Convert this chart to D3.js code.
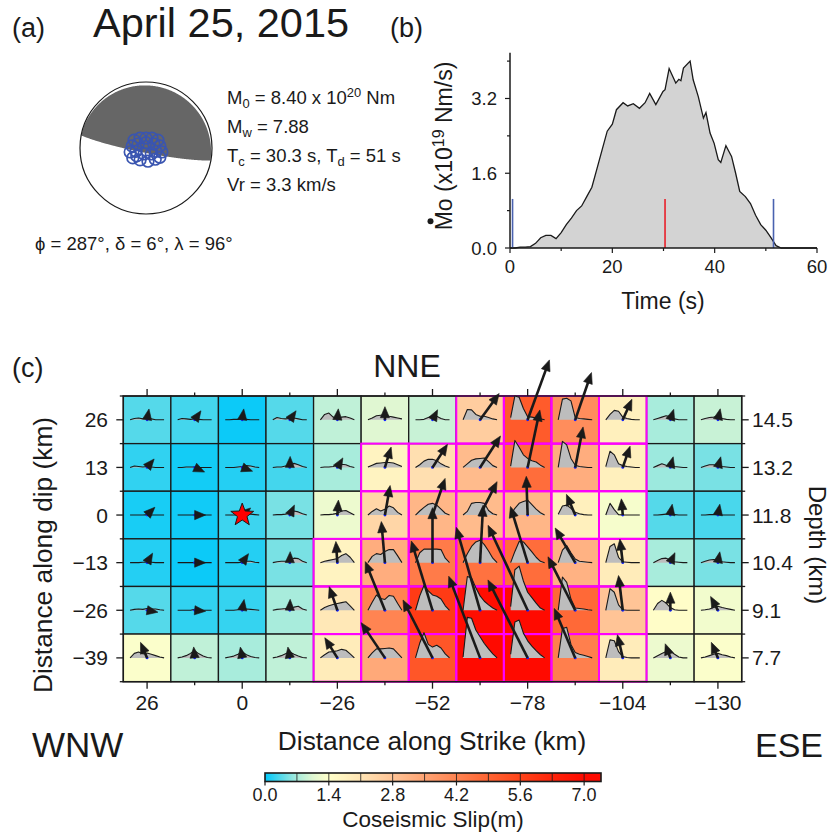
<!DOCTYPE html>
<html><head><meta charset="utf-8">
<script src="https://cdn.jsdelivr.net/npm/d3@7"></script>
<style>
body{margin:0;background:#fff}
svg text{font-family:"Liberation Sans",Arial,Helvetica,sans-serif;fill:#1a1a1a}
</style>
</head><body>
<svg id="fig" width="833" height="835" xmlns="http://www.w3.org/2000/svg"></svg>
<script>
// ---------------- DATA ----------------
const eventTitle = "April 25, 2015";
const strike = 287, dip = 6, rake = 96;
// blue cluster of circles (offsets in beachball-radius units)
const clusterX = [-0.18,-0.09,0,0.09,0.18,-0.21,0.21,-0.12,0.12,0,-0.15,0.15,0.24,-0.24,-0.2,-0.09,0.03,0.14,0.21,-0.03,0.08,-0.14];
const clusterY = [-0.12,-0.15,-0.15,-0.15,-0.12,-0.03,-0.03,-0.06,-0.06,-0.08,0.05,0.05,0.06,0.06,0.15,0.18,0.2,0.17,0.14,0.09,0.09,0.12];

// moment rate function (panel b)
const stfTime = [0,1,2,3,4,5,6,7,8,9,10,11,12,13,14,15,16,17,18,19,20,20.8,22.1,23,24.1,25.3,26.4,27.3,28.5,29.9,30.3,31.1,32.4,33,33.4,33.9,35.2,35.8,36.8,37.8,38.3,39.1,39.9,40.7,41.2,42.2,43.3,44.1,44.9,46,47,48,49,50,51,52,53,54,56,58,60];
const stfRate = [0,0,0.02,0.02,0.03,0.1,0.22,0.27,0.27,0.2,0.33,0.5,0.64,0.8,0.9,1.1,1.3,1.7,2.1,2.5,2.65,2.96,3.11,3.04,3.09,2.99,3.11,3.31,3.07,3.35,3.39,3.84,3.53,3.61,3.58,3.85,4.0,3.6,3.24,2.78,2.9,2.46,2.24,1.89,1.83,2.19,1.96,1.6,1.21,1.1,0.95,0.7,0.5,0.38,0.22,0.05,0,0,0,0,0];
const markTimes = [0.5, 30.3, 51.5];
const markKinds = ["start","centroid","end"];
const markHeight = 1.05;
const stfYTicks = [0, 1.6, 3.2];
const stfXTicks = [0, 20, 40, 60];

// slip model (panel c)
const strikeKm = [26,13,0,-13,-26,-39,-52,-65,-78,-91,-104,-117,-130];
const dipKm = [26,13,0,-13,-26,-39];
const depthLabels = ["14.5","13.2","11.8","10.4","9.1","7.7"];
const strikeTickLabels = [26,0,-26,-52,-78,-104,-130];
const slip = [
 [0.35,0.28,0.05,0.35,0.85,1.05,0.9,2.6,5.1,4.0,1.8,0.7,0.9],
 [0.2,0.08,0.15,0.28,0.7,1.7,2.2,3.0,4.7,3.3,1.8,0.65,0.5],
 [0.1,0.07,0.25,0.5,1.2,2.4,3.1,3.0,3.1,1.8,1.3,0.35,0.3],
 [0.15,0.05,0.15,0.5,1.7,3.3,4.4,4.6,4.7,3.2,1.9,0.7,0.5],
 [0.35,0.2,0.22,0.7,2.0,4.2,5.8,6.9,7.5,4.8,2.8,1.45,1.25],
 [1.35,0.85,0.7,0.85,1.9,3.4,5.2,7.0,7.0,4.3,1.9,1.2,1.35]
];
// slip direction (deg, counter-clockwise from +x of the plot)
const slipAngle = [
 [80,55,82,55,85,90,63,54,70,71,66,72,78],
 [50,-25,-20,88,60,73,57,57,78,79,71,75,75],
 [45,0,40,65,86,80,71,63,92,113,95,80,80],
 [60,0,55,88,94,95,90,87,107,120,97,65,80],
 [-10,-5,80,88,109,112,107,106,115,117,97,90,118],
 [113,95,100,100,122,124,117,111,117,113,103,110,113]
];
// main rupture patch (outlined)
const patch = [
 [0,0,0,0,0,0,0,1,1,1,1,0,0],
 [0,0,0,0,0,1,1,1,1,1,1,0,0],
 [0,0,0,0,0,1,1,1,1,1,1,0,0],
 [0,0,0,0,1,1,1,1,1,1,1,0,0],
 [0,0,0,0,1,1,1,1,1,1,1,0,0],
 [0,0,0,0,1,1,1,1,1,1,1,0,0]
];
// subfault source time functions (9 samples each)
const subSTF = [
 [[0,0.3,0.4,0.2,0.3,0.2,0,0,0],[0,0.3,0.2,0.1,0.2,0.1,0,0,0],[0,0,0.1,0.1,0.2,0.1,0,0,0],[0,0.5,0.3,0.2,0.3,0.4,0.2,0,0],
  [0,1.2,1.5,0.6,0.4,0.6,0.7,0.4,0],[0,0.4,0.9,1.0,1.1,0.8,0.6,0.4,0.2],[0,0,0.1,0.5,0.9,0.8,0.3,0,0],[0,2.3,2.2,1.2,0.8,0.8,0.5,0.2,0],
  [0.5,5.3,5.0,2.5,0.7,0.6,0.4,0.2,0],[0,4.6,4.8,4.2,0.5,0.3,0.2,0.1,0],[0,1.2,2.1,1.9,0.6,0.3,0.1,0,0],[0,0.3,0.6,0.9,0.7,0.2,0,0,0],[0,0.3,0.5,0.6,0.8,0.3,0.1,0,0]],
 [[0,0.3,0.2,0.1,0.2,0.1,0,0,0],[0,0,0.1,0.1,0.1,0,0,0,0],[0,0,0,0.1,0.2,0.4,0.3,0.1,0],[0,0.1,0.1,0.3,0.5,0.9,0.6,0.2,0],
  [0,0.1,0.1,0.2,0.5,0.7,0.6,0.2,0],[0.1,0.5,0.9,1.0,1.1,1.1,1.0,0.6,0.2],[0,0.6,1.4,1.8,1.8,1.5,0.8,0.3,0],[0,0.8,1.6,1.9,2.0,2.1,1.3,0.4,0],
  [0.3,6.0,4.5,2.8,2.0,1.5,1.2,0.5,0],[0,5.8,5.0,2.0,0.5,0.2,0.1,0,0],[0.2,3.6,2.8,0.8,0.4,0.2,0.1,0,0],[0,0.4,0.8,0.5,0.4,0.2,0.1,0,0],[0,0.3,0.6,0.6,0.4,0.2,0.1,0,0]],
 [[0,0,0,0,0.1,0,0,0,0],[0,0,0,0,0,0,0,0,0],[0,0,0,0,0.1,0.3,0.2,0.1,0],[0,0.1,0.1,0.2,0.4,0.9,0.7,0.3,0],
  [0,0.1,0.1,0.2,0.4,0.9,1.0,0.5,0],[0,0.8,1.4,0.9,1.3,2.0,1.6,0.6,0],[0,0.9,1.7,2.4,2.6,2.2,1.3,0.4,0],[0,0.8,2.6,2.8,2.8,2.6,1.0,0.3,0],
  [0,1.5,2.6,3.0,3.3,2.3,1.3,0.5,0],[0.2,2.0,2.2,1.5,0.6,0.3,0.1,0,0],[0,2.6,1.2,0.1,0,0,0,0,0],[0,0,0.1,0.2,0.2,0.1,0,0,0],[0,0,0.1,0.1,0.1,0,0,0,0]],
 [[0,0,0,0.1,0.1,0.1,0,0,0],[0,0,0,0,0,0,0,0,0],[0,0,0,0,0.1,0.3,0.3,0.1,0],[0,0.2,0.3,0.3,0.6,1.0,0.9,0.3,0],
  [0,0.3,0.5,0.7,0.9,1.6,2.0,1.2,0],[0,1.4,2.0,1.8,2.5,2.9,2.9,1.5,0],[0,2.2,3.0,3.0,3.0,3.0,2.9,1.0,0],[0,2.0,3.6,4.6,5.0,4.0,2.6,1.0,0],
  [0,2.5,4.7,4.6,3.5,2.4,1.2,0.3,0],[0,2.8,3.8,2.2,0.8,0.3,0.2,0.1,0],[0,3.6,4.2,1.2,0.2,0.1,0,0,0],[0,0.5,0.9,1.0,0.6,0.2,0.1,0,0],[0,0.3,0.6,0.7,0.6,0.2,0.1,0,0]],
 [[0,0.2,0.3,0.2,0.4,0.3,0.3,0.1,0],[0,0,0,0,0.2,0.1,0,0,0],[0,0,0,0.1,0.2,0.3,0.2,0.1,0],[0,0.2,0.3,0.4,0.6,0.7,0.9,0.3,0],
  [0,0.6,1.0,1.3,1.5,1.7,1.9,1.0,0],[0,1.8,3.4,2.6,2.4,3.3,3.1,1.5,0],[0,3.2,5.5,4.3,3.4,3.1,2.5,1.0,0],[0,7.5,7.2,5.0,3.2,2.0,1.2,0.5,0],
  [0.8,9.0,9.8,6.5,4.0,2.8,1.6,0.5,0],[0,7.4,6.2,2.5,0.5,0.4,0.3,0.1,0],[0,4.8,4.0,1.2,0.1,0,0,0,0],[0,1.5,2.2,1.6,0.6,0.1,0,0,0],[0,0.1,0.3,0.6,0.9,0.6,0.4,0.2,0]],
 [[0,1.0,1.3,0.9,1.1,0.8,0.5,0.2,0],[0,0.2,0.5,1.0,1.6,0.9,0.4,0.1,0],[0,0.2,0.4,0.8,1.3,0.7,0.3,0.1,0],[0,0.2,0.5,0.9,1.3,0.8,0.4,0.1,0],
  [0,0.7,1.3,1.4,1.6,1.9,1.7,0.9,0],[0,1.1,2.0,2.0,2.1,2.2,2.0,1.0,0],[0,3.3,5.6,3.0,2.4,2.8,2.2,0.9,0],[0.2,9.0,8.8,6.2,4.7,3.2,2.0,0.9,0],
  [0.8,8.0,8.4,5.5,3.8,2.6,1.6,0.7,0],[0,6.5,6.8,3.0,1.2,0.8,0.6,0.3,0],[0,4.0,3.8,1.4,0.3,0.1,0,0,0],[0,0.5,1.0,1.4,1.5,0.8,0.2,0,0],[0,0.2,0.5,0.8,1.0,0.7,0.5,0.2,0]]
];
const hypoStrike = 0, hypoDip = 0;
// colour palette (slip in m)
const paletteStops = [0,0.35,0.7,1.05,1.4,2.1,2.8,3.5,4.2,4.9,5.6,6.3,7.0];
const paletteColors = ["#00c8fa","#55d9ea","#a8ecdc","#e0f7d2","#ffffca","#ffe4b4","#ffc496","#ffa474","#ff8452","#ff6432","#ff441a","#ff240a","#ff0a00"];
const colorbarTicks = [0,1.4,2.8,4.2,5.6,7.0];
const colorbarMax = 7.37;

// ---------------- DRAW ----------------
const svg = d3.select("#fig");
const ink = "#1a1a1a";

function txt(g, x, y, s, size, anchor){
  return g.append("text").attr("x",x).attr("y",y).attr("font-size",size).attr("text-anchor",anchor||"start").text(s);
}

// ===== panel (a) =====
txt(svg, 12, 37, "(a)", 27);
txt(svg, 93, 37, eventTitle, 41.5);

const bbC = [146, 148], bbR = 66;
(function beachball(){
  const rad = Math.PI/180;
  const s = strike*rad, d = dip*rad, r = rake*rad;
  const Mxx = -(Math.sin(d)*Math.cos(r)*Math.sin(2*s) + Math.sin(2*d)*Math.sin(r)*Math.sin(s)**2);
  const Myy =  Math.sin(d)*Math.cos(r)*Math.sin(2*s) - Math.sin(2*d)*Math.sin(r)*Math.cos(s)**2;
  const Mzz =  Math.sin(2*d)*Math.sin(r);
  const Mxy =  Math.sin(d)*Math.cos(r)*Math.cos(2*s) + 0.5*Math.sin(2*d)*Math.sin(r)*Math.sin(2*s);
  const Mxz = -(Math.cos(d)*Math.cos(r)*Math.cos(s) + Math.cos(2*d)*Math.sin(r)*Math.sin(s));
  const Myz = -(Math.cos(d)*Math.cos(r)*Math.sin(s) - Math.cos(2*d)*Math.sin(r)*Math.cos(s));
  const N = 300, vals = new Array(N*N);
  for (let j=0;j<N;j++) for (let i=0;i<N;i++){
    const px = (i+0.5)/N*2-1, py = (j+0.5)/N*2-1;
    const rr = Math.hypot(px,py);
    if (rr>1){ vals[j*N+i] = -1; continue; }
    const ti = 2*Math.asin(Math.min(1, rr/Math.SQRT2));
    const az = Math.atan2(px, -py);
    const g1 = Math.sin(ti)*Math.cos(az), g2 = Math.sin(ti)*Math.sin(az), g3 = Math.cos(ti);
    vals[j*N+i] = Mxx*g1*g1 + Myy*g2*g2 + Mzz*g3*g3 + 2*(Mxy*g1*g2 + Mxz*g1*g3 + Myz*g2*g3);
  }
  const cont = d3.contours().size([N,N]).thresholds([0])(vals);
  const tr = d3.geoTransform({point(x,y){ this.stream.point(bbC[0]+(x/N*2-1)*bbR, bbC[1]+(y/N*2-1)*bbR); }});
  svg.append("circle").attr("cx",bbC[0]).attr("cy",bbC[1]).attr("r",bbR).attr("fill","#fff");
  svg.append("path").attr("d", d3.geoPath(tr)(cont[0])).attr("fill","#666666");
  svg.append("circle").attr("cx",bbC[0]).attr("cy",bbC[1]).attr("r",bbR).attr("fill","none").attr("stroke",ink).attr("stroke-width",1.2);
  const cg = svg.append("g");
  clusterX.forEach((cx,k)=>{
    cg.append("circle").attr("cx",bbC[0]+cx*bbR).attr("cy",bbC[1]+clusterY[k]*bbR).attr("r",5.8)
      .attr("fill","none").attr("stroke","#3a55b0").attr("stroke-width",1.7);
  });
})();

// parameter text
(function params(){
  const x0 = 227, fs = 18.5;
  function line(y, parts){
    const t = svg.append("text").attr("x",x0).attr("y",y).attr("font-size",fs);
    parts.forEach(p=>{
      const sp = t.append("tspan").text(p[0]);
      if (p[1]==="sub") sp.attr("font-size",fs*0.7).attr("dy",4);
      else if (p[1]==="sup") sp.attr("font-size",fs*0.7).attr("dy",-7);
      else if (p[1]==="subEnd") sp.attr("dy",-4);
      else if (p[1]==="supEnd") sp.attr("dy",7);
    });
  }
  line(104, [["M"],["0","sub"],[" = 8.40 x 10","subEnd"],["20","sup"],[" Nm","supEnd"]]);
  line(133, [["M"],["w","sub"],[" = 7.88","subEnd"]]);
  line(162, [["T"],["c","sub"],[" = 30.3 s, T","subEnd"],["d","sub"],[" = 51 s","subEnd"]]);
  line(191, [["Vr = 3.3 km/s"]]);
  txt(svg, 35, 250, "\u03d5 = 287\u00b0, \u03b4 = 6\u00b0, \u03bb = 96\u00b0", 18.5);
})();

// ===== panel (b) =====
txt(svg, 390, 37, "(b)", 27);
(function stfPanel(){
  const xb = d3.scaleLinear().domain([0,60]).range([510,817]);
  const yb = d3.scaleLinear().domain([0,4.18]).range([248,52.7]);
  const g = svg.append("g");
  const area = d3.area().x((d,i)=>xb(stfTime[i])).y0(yb(0)).y1((d)=>yb(d));
  const line = d3.line().x((d,i)=>xb(stfTime[i])).y(d=>yb(d));
  g.append("path").attr("d", area(stfRate)).attr("fill","#d3d3d3");
  g.append("path").attr("d", line(stfRate)).attr("fill","none").attr("stroke",ink).attr("stroke-width",1.3);
  markTimes.forEach((t,k)=>{
    g.append("line").attr("x1",xb(t)).attr("x2",xb(t)).attr("y1",yb(0)).attr("y2",yb(markHeight))
      .attr("stroke", markKinds[k]==="centroid" ? "#e8202a" : "#4a62b0").attr("stroke-width",1.6);
  });
  g.append("line").attr("x1",xb(0)).attr("x2",xb(0)).attr("y1",yb(4.18)).attr("y2",yb(0)).attr("stroke",ink).attr("stroke-width",1.5);
  g.append("line").attr("x1",xb(0)).attr("x2",xb(60)).attr("y1",yb(0)).attr("y2",yb(0)).attr("stroke",ink).attr("stroke-width",1.5);
  d3.range(0, 4.01, 0.8).forEach(v=>{
    const major = Math.abs(v/1.6 - Math.round(v/1.6))<1e-6;
    g.append("line").attr("x1",xb(0)).attr("x2",xb(0)-(major?5:3)).attr("y1",yb(v)).attr("y2",yb(v)).attr("stroke",ink).attr("stroke-width",1.2);
  });
  stfYTicks.forEach(v=>{
    txt(g, 497, yb(v)+6.5, v.toFixed(1), 18.5, "end");
  });
  d3.range(0, 61, 10).forEach(v=>{
    const major = v%20===0;
    g.append("line").attr("x1",xb(v)).attr("x2",xb(v)).attr("y1",yb(0)).attr("y2",yb(0)+(major?5:3)).attr("stroke",ink).attr("stroke-width",1.2);
  });
  stfXTicks.forEach(v=> txt(g, xb(v), 273, String(v), 18.5, "middle"));
  txt(g, 663, 309, "Time (s)", 23, "middle");
  const yl = g.append("text").attr("transform","translate(452,146) rotate(-90)").attr("font-size",23).attr("text-anchor","middle");
  yl.append("tspan").text("Mo (x10");
  yl.append("tspan").text("19").attr("font-size",16).attr("dy",-8);
  yl.append("tspan").text(" Nm/s)").attr("dy",8);
  const len = yl.node().getComputedTextLength();
  g.append("circle").attr("cx",452-16.5-5).attr("cy",146+len/2-9).attr("r",3).attr("fill",ink);
})();

// ===== panel (c) =====
txt(svg, 12, 377, "(c)", 27);
const xS = d3.scaleLinear().domain([32.5,-136.5]).range([123.3,741.7]);
const yS = d3.scaleLinear().domain([32.5,-45.5]).range([396,681.7]);
const slipColor = d3.scaleLinear().domain(paletteStops).range(paletteColors).clamp(true);
const arrowLen = d3.scaleLinear().domain([0,1]).range([0,12.5]);
const stfH = d3.scaleLinear().domain([0,1]).range([0,4.5]);
const cw = xS(0)-xS(13), chh = yS(0)-yS(13);

const gC = svg.append("g");
dipKm.forEach((dk,j)=> strikeKm.forEach((sk,i)=>{
  gC.append("rect").attr("x",xS(sk)-cw/2).attr("y",yS(dk)-chh/2).attr("width",cw).attr("height",chh)
    .attr("fill", slipColor(slip[j][i])).attr("stroke",ink).attr("stroke-width",1.3);
}));
dipKm.forEach((dk,j)=> strikeKm.forEach((sk,i)=>{
  if (patch[j][i]) gC.append("rect").attr("x",xS(sk)-cw/2).attr("y",yS(dk)-chh/2).attr("width",cw).attr("height",chh)
    .attr("fill","none").attr("stroke","#ff00ff").attr("stroke-width",2);
}));
gC.append("rect").attr("x",xS(32.5)).attr("y",yS(32.5)).attr("width",xS(-136.5)-xS(32.5)).attr("height",yS(-45.5)-yS(32.5))
  .attr("fill","none").attr("stroke",ink).attr("stroke-width",1.5);

const gS = svg.append("g");
dipKm.forEach((dk,j)=> strikeKm.forEach((sk,i)=>{
  const cx = xS(sk), cy = yS(dk);
  const vals = subSTF[j][i];
  const xf = k => cx - 17 + k*34/(vals.length-1);
  const ar = d3.area().x((d,k)=>xf(k)).y0(cy).y1(d=>cy-stfH(d));
  const ln = d3.line().x((d,k)=>xf(k)).y(d=>cy-stfH(d));
  gS.append("path").attr("d", ar(vals)).attr("fill","#bdbdbd");
  gS.append("path").attr("d", ln(vals)).attr("fill","none").attr("stroke",ink).attr("stroke-width",1.1).attr("stroke-linejoin","round");
  gS.append("circle").attr("cx",cx).attr("cy",cy).attr("r",1.4).attr("fill","#1020ff");
}));
const gA = svg.append("g");
const headLen = 11, headHalf = 4.6;
dipKm.forEach((dk,j)=> strikeKm.forEach((sk,i)=>{
  const cx = xS(sk), cy = yS(dk);
  const a = slipAngle[j][i]*Math.PI/180;
  const ux = Math.cos(a), uy = -Math.sin(a);
  const L = Math.max(arrowLen(slip[j][i]), headLen);
  const tx = cx+ux*L, ty = cy+uy*L;
  const bx = tx-ux*headLen, by = ty-uy*headLen;
  if (L > headLen+0.5) gA.append("line").attr("x1",cx).attr("y1",cy).attr("x2",bx+ux*2).attr("y2",by+uy*2)
      .attr("stroke",ink).attr("stroke-width",2.6);
  gA.append("path").attr("d",`M${tx},${ty}L${bx-uy*headHalf},${by+ux*headHalf}L${bx+uy*headHalf},${by-ux*headHalf}Z`)
    .attr("fill",ink).attr("stroke",ink).attr("stroke-width",0.6).attr("stroke-linejoin","round");
}));
(function star(){
  const cx = xS(hypoStrike), cy = yS(hypoDip), ro = 12, ri = 5;
  const pts = d3.range(10).map(k=>{
    const ang = -Math.PI/2 + k*Math.PI/5, rr = k%2 ? ri : ro;
    return [cx+rr*Math.cos(ang), cy+rr*Math.sin(ang)];
  });
  svg.append("path").attr("d","M"+pts.map(p=>p.join(",")).join("L")+"Z").attr("fill","#ff0000").attr("stroke",ink).attr("stroke-width",1);
})();

const gT = svg.append("g").attr("stroke",ink).attr("stroke-width",1.3);
strikeKm.forEach((sk,i)=>{
  const major = i%2===0, tl = major?7:3.5;
  gT.append("line").attr("x1",xS(sk)).attr("x2",xS(sk)).attr("y1",yS(32.5)).attr("y2",yS(32.5)-tl);
  gT.append("line").attr("x1",xS(sk)).attr("x2",xS(sk)).attr("y1",yS(-45.5)).attr("y2",yS(-45.5)+tl);
});
d3.range(32.5,-45.6,-6.5).forEach(v=>{
  const major = Math.abs(((v%13)+13)%13)<1e-6, tl = major?7:3.5;
  gT.append("line").attr("x1",xS(32.5)).attr("x2",xS(32.5)-tl).attr("y1",yS(v)).attr("y2",yS(v));
  gT.append("line").attr("x1",xS(-136.5)).attr("x2",xS(-136.5)+tl).attr("y1",yS(v)).attr("y2",yS(v));
});
const fmt = v => v<0 ? "\u2212"+Math.abs(v) : String(v);
strikeTickLabels.forEach(v=> txt(svg, xS(v), 710, fmt(v), 21, "middle"));
dipKm.forEach((v,j)=>{
  txt(svg, 108, yS(v)+7.5, fmt(v), 21, "end");
  txt(svg, 752, yS(v)+7.5, depthLabels[j], 21, "start");
});
txt(svg, 407, 377, "NNE", 32, "middle");
txt(svg, 32, 757, "WNW", 35);
txt(svg, 755, 757, "ESE", 34);
txt(svg, 432, 750, "Distance along Strike (km)", 26.3, "middle");
svg.append("text").attr("transform","translate(52,555) rotate(-90)").attr("font-size",26.3).attr("text-anchor","middle").text("Distance along dip (km)");
svg.append("text").attr("transform","translate(809,545) rotate(90)").attr("font-size",24).attr("text-anchor","middle").text("Depth (km)");

(function colorbar(){
  const cb = d3.scaleLinear().domain([0,colorbarMax]).range([265,601]);
  const y0 = 773, h = 8.5;
  const g = svg.append("g");
  d3.range(265,601,1).forEach(x=>{
    g.append("rect").attr("x",x).attr("y",y0).attr("width",1.05).attr("height",h).attr("fill",slipColor(cb.invert(x+0.5)));
  });
  d3.range(0.7,7.01,0.7).forEach(v=>{
    g.append("line").attr("x1",cb(v)).attr("x2",cb(v)).attr("y1",y0).attr("y2",y0+h).attr("stroke",ink).attr("stroke-width",0.8);
  });
  colorbarTicks.forEach(v=>{
    g.append("line").attr("x1",cb(v)).attr("x2",cb(v)).attr("y1",y0+h).attr("y2",y0+h+4).attr("stroke",ink).attr("stroke-width",1.2);
    txt(g, cb(v), 801, v.toFixed(1), 18, "middle");
  });
  g.append("rect").attr("x",265).attr("y",y0).attr("width",336).attr("height",h).attr("fill","none").attr("stroke",ink).attr("stroke-width",1.6);
  txt(g, 433, 827, "Coseismic Slip(m)", 22.5, "middle");
})();
</script>
</body></html>
